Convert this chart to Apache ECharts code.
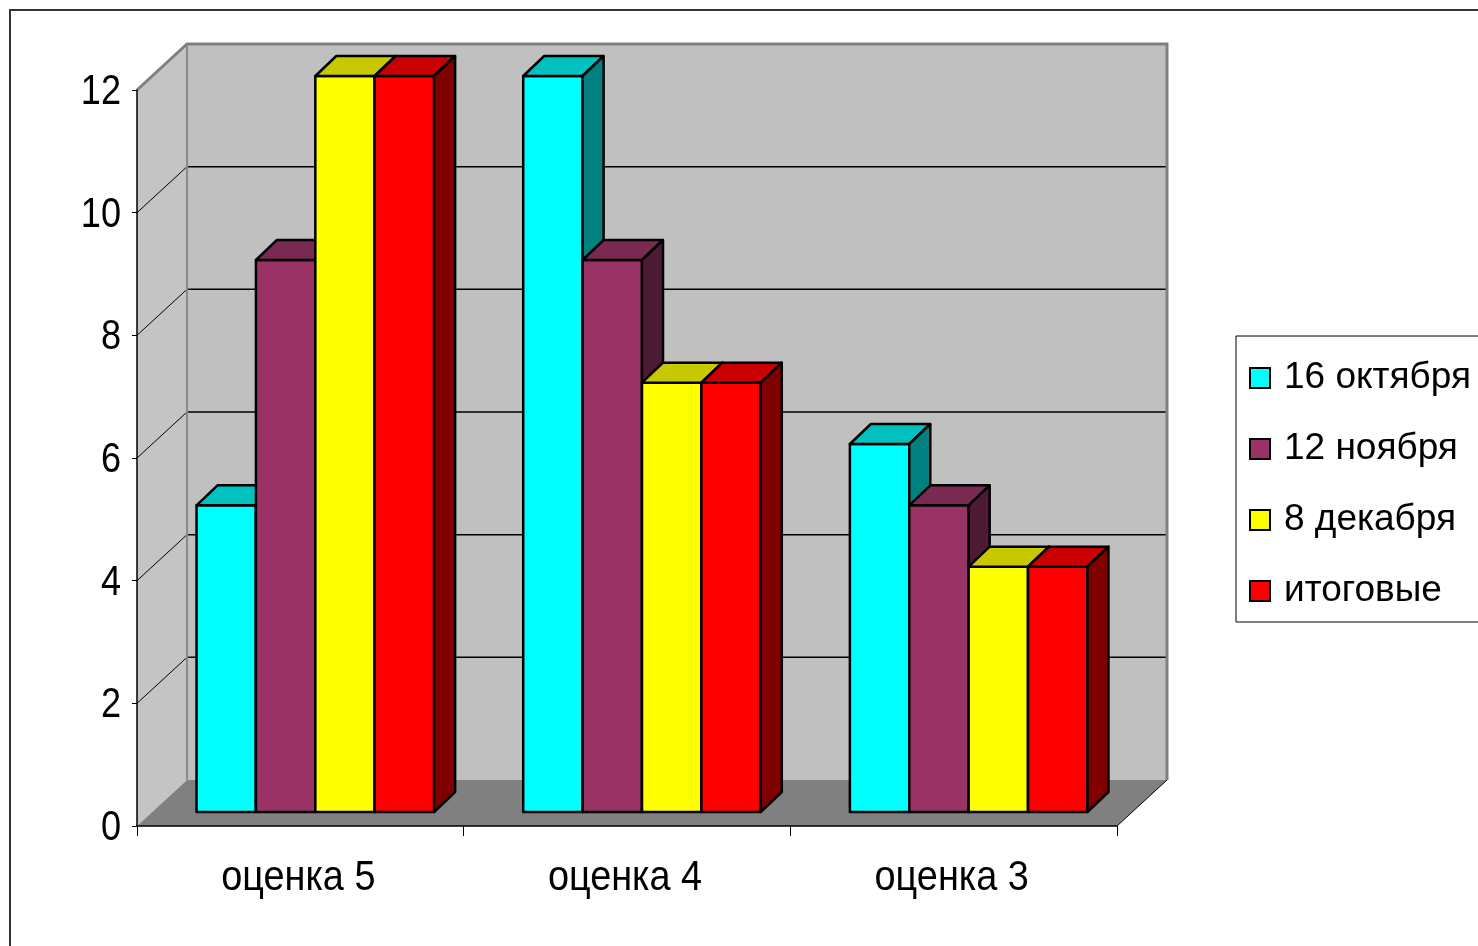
<!DOCTYPE html>
<html>
<head>
<meta charset="utf-8">
<script src="https://cdn.jsdelivr.net/npm/echarts@6/dist/echarts.min.js"></script>
<style>
  html, body { margin: 0; padding: 0; background: #fff; }
  #chart { width: 1478px; height: 946px; }
</style>
</head>
<body>
<div id="chart"></div>
<script>
// Grade counts per survey date
const categories = ['оценка 5', 'оценка 4', 'оценка 3'];
const seriesNames = ['16 октября', '12 ноября', '8 декабря', 'итоговые'];
const oct16 = [5, 12, 6];
const nov12 = [9, 9, 5];
const dec8 = [12, 7, 4];
const finalGrades = [12, 7, 4];
const yTicks = [0, 2, 4, 6, 8, 10, 12];

const yMin = yTicks[0];
const yMax = yTicks[yTicks.length - 1];
const yStep = yTicks[1] - yTicks[0];
const seriesValues = [oct16, nov12, dec8, finalGrades];

// Face / top / side shades for the pseudo-3D columns
const faceColors = ['#00FFFF', '#993366', '#FFFF00', '#FF0000'];
const topColors  = ['#00C0C0', '#7A2952', '#C8C800', '#C80000'];
const sideColors = ['#008080', '#4D1A33', '#808000', '#800000'];

const WALL_DEPTH = [50, -46];   // offset from front plane to back wall
const BAR_OFFSET = [15, -14];   // front face of columns behind the front plane
const BAR_DEPTH = [21, -20];    // thickness of each column
const GAP_RATIO = 1.5;          // gap between groups, in column widths

const textFont = "'Liberation Sans', Arial, sans-serif";
const AXIS_FONT_SIZE = 43;
const Y_TEXT_SQUEEZE = 0.84;    // narrow lettering for value labels
const X_TEXT_SQUEEZE = 0.88;    // narrow lettering for category labels

function drawWalls(params, api) {
  const band = api.size([1, 0])[0];
  const o = api.coord([0, yMin]);
  const t = api.coord([0, yMax]);
  const xL = o[0] - band / 2;
  const xR = xL + band * categories.length;
  const yB = o[1], yT = t[1];
  const dx = WALL_DEPTH[0], dy = WALL_DEPTH[1];
  const children = [];
  // left side wall
  children.push({
    type: 'polygon',
    shape: { points: [[xL, yB], [xL + dx, yB + dy], [xL + dx, yT + dy], [xL, yT]] },
    style: { fill: '#C4C4C4', stroke: null }
  });
  // back wall
  children.push({
    type: 'rect',
    shape: { x: xL + dx, y: yT + dy, width: xR - xL, height: yB - yT },
    style: { fill: '#C0C0C0', stroke: null }
  });
  // floor
  children.push({
    type: 'polygon',
    shape: { points: [[xL, yB], [xR, yB], [xR + dx, yB + dy], [xL + dx, yB + dy]] },
    style: { fill: '#808080', stroke: null }
  });
  // gridlines on back and side walls
  for (let i = 1; i < yTicks.length - 1; i++) {
    const y = api.coord([0, yTicks[i]])[1];
    children.push({
      type: 'line',
      shape: { x1: xL + dx, y1: y + dy, x2: xR + dx, y2: y + dy },
      style: { stroke: '#000', lineWidth: 1.5 }
    });
    children.push({
      type: 'line',
      shape: { x1: xL, y1: y, x2: xL + dx, y2: y + dy },
      style: { stroke: '#000', lineWidth: 1 }
    });
  }
  // wall outline
  children.push({
    type: 'polyline',
    shape: { points: [[xL, yT], [xL + dx, yT + dy], [xR + dx, yT + dy], [xR + dx, yB + dy]] },
    style: { stroke: '#808080', lineWidth: 3, fill: null }
  });
  children.push({
    type: 'line',
    shape: { x1: xL + dx, y1: yT + dy, x2: xL + dx, y2: yB + dy },
    style: { stroke: '#8a8a8a', lineWidth: 2 }
  });
  // right floor edge
  children.push({
    type: 'line',
    shape: { x1: xR, y1: yB, x2: xR + dx, y2: yB + dy },
    style: { stroke: '#000', lineWidth: 1 }
  });
  return { type: 'group', children: children };
}

function columnRenderer(si) {
  return function (params, api) {
    const c = api.value(0);
    const v = api.value(1);
    const base = api.coord([c, yMin]);
    const top = api.coord([c, v]);
    const band = api.size([1, 0])[0];
    const n = seriesNames.length;
    const bw = band / (n + GAP_RATIO);
    const x0 = base[0] + BAR_OFFSET[0] + (si - n / 2) * bw;
    const x1 = x0 + bw;
    const yb = base[1] + BAR_OFFSET[1];
    const yt = top[1] + BAR_OFFSET[1];
    const dx = BAR_DEPTH[0], dy = BAR_DEPTH[1];
    const edge = { stroke: '#000', lineWidth: 2.5, lineJoin: 'round' };
    return {
      type: 'group',
      children: [
        { type: 'rect', shape: { x: x0, y: yt, width: bw, height: yb - yt },
          style: Object.assign({ fill: faceColors[si] }, edge) },
        { type: 'polygon', shape: { points: [[x0, yt], [x1, yt], [x1 + dx, yt + dy], [x0 + dx, yt + dy]] },
          style: Object.assign({ fill: topColors[si] }, edge) },
        { type: 'polygon', shape: { points: [[x1, yt], [x1 + dx, yt + dy], [x1 + dx, yb + dy], [x1, yb]] },
          style: Object.assign({ fill: sideColors[si] }, edge) }
      ]
    };
  };
}

// Axis labels in condensed lettering, placed through the axis scales
function axisText(x, y, text, align, squeeze) {
  return {
    type: 'text',
    x: x, y: y,
    scaleX: squeeze,
    style: {
      x: 0, y: 0,
      text: text,
      fill: '#000',
      font: AXIS_FONT_SIZE + 'px ' + textFont,
      align: align,
      verticalAlign: 'middle'
    }
  };
}

function yLabelRenderer(params, api) {
  const v = api.value(1);
  const p = api.coord([0, v]);
  const band = api.size([1, 0])[0];
  return axisText(p[0] - band / 2 - 16, p[1] + 2, String(v), 'right', Y_TEXT_SQUEEZE);
}

function xLabelRenderer(params, api) {
  const c = api.value(0);
  const p = api.coord([c, yMin]);
  return axisText(p[0] - 2, p[1] + 52, categories[c], 'center', X_TEXT_SQUEEZE);
}

const series = [{
  type: 'custom',
  name: 'walls',
  z: 1,
  silent: true,
  renderItem: drawWalls,
  data: [[0, yMin]],
  encode: { x: 0, y: 1 }
}];
seriesNames.forEach(function (name, si) {
  series.push({
    type: 'custom',
    name: name,
    z: 2,
    itemStyle: { color: faceColors[si] },
    renderItem: columnRenderer(si),
    data: categories.map(function (cat, i) { return [i, seriesValues[si][i]]; }),
    encode: { x: 0, y: 1 }
  });
});
series.push({
  type: 'custom',
  name: 'y-labels',
  z: 5,
  silent: true,
  renderItem: yLabelRenderer,
  data: yTicks.map(function (v) { return [0, v]; }),
  encode: { x: 0, y: 1 }
});
series.push({
  type: 'custom',
  name: 'x-labels',
  z: 5,
  silent: true,
  renderItem: xLabelRenderer,
  data: categories.map(function (cat, i) { return [i, yMin]; }),
  encode: { x: 0, y: 1 }
});

const chart = echarts.init(document.getElementById('chart'), null, { renderer: 'canvas' });
chart.setOption({
  backgroundColor: '#fff',
  animation: false,
  graphic: [{
    type: 'rect',
    z: -10,
    shape: { x: 10, y: 10, width: 1500, height: 1000 },
    style: { fill: null, stroke: '#333', lineWidth: 2 }
  }],
  grid: { left: 137, top: 90, width: 980, height: 736 },
  xAxis: {
    type: 'category',
    data: categories,
    z: 10,
    boundaryGap: true,
    axisLine: { show: true, lineStyle: { color: '#000', width: 1.5 } },
    axisTick: { show: true, length: 10, lineStyle: { color: '#000', width: 1 } },
    axisLabel: { show: false },
    splitLine: { show: false }
  },
  yAxis: {
    type: 'value',
    min: yMin, max: yMax, interval: yStep,
    z: 10,
    axisLine: { show: true, lineStyle: { color: '#000', width: 1.5 } },
    axisTick: { show: true, length: 5, lineStyle: { color: '#000', width: 1 } },
    axisLabel: { show: false },
    splitLine: { show: false }
  },
  legend: {
    orient: 'vertical',
    left: 1236,
    top: 336,
    padding: [17, 24, 6, 13],
    itemGap: 21,
    itemWidth: 20,
    itemHeight: 20,
    icon: 'rect',
    borderColor: '#000',
    borderWidth: 1,
    itemStyle: { borderColor: '#000', borderWidth: 2 },
    textStyle: { color: '#000', fontSize: 37, fontFamily: textFont, lineHeight: 50, padding: [0, 0, 0, 9] },
    data: seriesNames
  },
  series: series
});
</script>
</body>
</html>
